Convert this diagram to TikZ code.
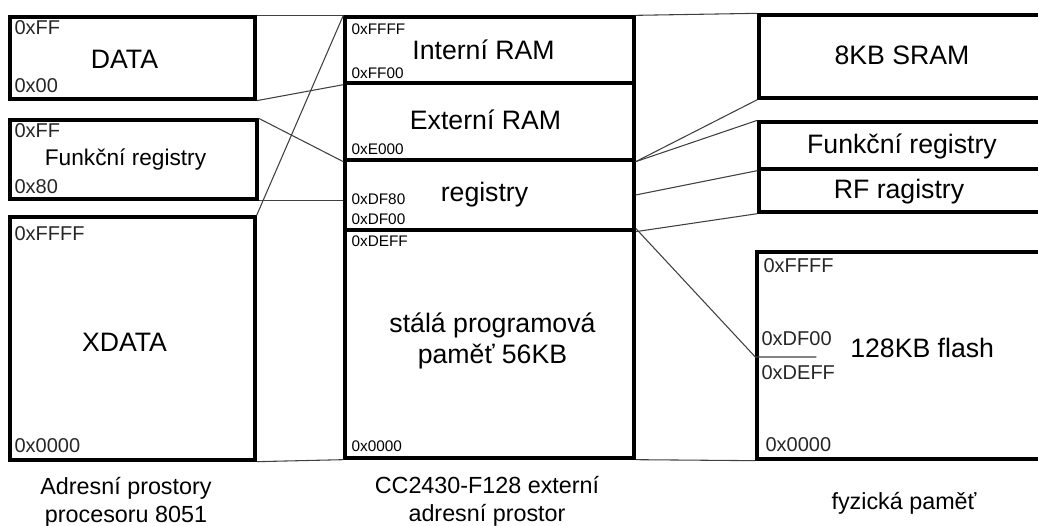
\documentclass[tikz,border=0pt]{standalone}
\usepackage{fontspec}
\setmainfont{Liberation Sans}
\usetikzlibrary{fit,calc}

\begin{document}
\begin{tikzpicture}[x=0.75pt,y=-0.75pt,
	blok/.style={draw,line width=2.5pt,inner sep=0pt},
	nazev/.style={inner sep=0pt,align=center,font=\fontsize{20}{23}\selectfont},
	spoj/.style={line width=0.8pt,black!75},
	adr/.style={inner sep=0pt,black!85,font=\fontsize{15}{18}\selectfont},
	madr/.style={inner sep=0pt,font=\fontsize{11.5}{13}\selectfont},
	popis/.style={inner sep=0pt,align=center,font=\fontsize{17.5}{21}\selectfont}]

\clip (0,0) rectangle (1038,525);

% PROCESOR 8051
\node[blok,fit={(10,17)(255,99)}] (data) {};
\node[nazev] (data-t) at ($(data.center)+(-8,1)$) {DATA};
\node[adr,anchor=north west] (data-h) at ($(data.north west)+(6,5)$) {0xFF};
\node[adr,anchor=south west] (data-l) at ($(data.south west)+(6,-8)$) {0x00};

\node[blok,fit={(10,120)(257,199)}] (sfr) {};
\node[nazev,font=\fontsize{17}{20}\selectfont] (sfr-t) at ($(sfr.center)+(-8,0)$) {Funkční registry};
\node[adr,anchor=north west] (sfr-h) at ($(sfr.north west)+(6,5)$) {0xFF};
\node[adr,anchor=south west] (sfr-l) at ($(sfr.south west)+(6,-7)$) {0x80};

\node[blok,fit={(10,217)(255,460)}] (xdata) {};
\node[nazev] (xdata-t) at ($(xdata.center)+(-8,4)$) {XDATA};
\node[adr,anchor=north west] (xdata-h) at ($(xdata.north west)+(6,11)$) {0xFFFF};
\node[adr,anchor=south west] (xdata-l) at ($(xdata.south west)+(6,-9)$) {0x0000};

\node[popis] (cap1) at (126,502) {Adresní prostory\\procesoru 8051};

% CC2430 ADRESNI PROSTOR
\node[blok,fit={(345,17)(634,83)}] (iram) {};
\node[nazev] (iram-t) at ($(iram.center)+(-6,0)$) {Interní RAM};
\node[madr,anchor=north west] (iram-h) at ($(iram.north west)+(8,8)$) {0xFFFF};
\node[madr,anchor=south west] (iram-l) at ($(iram.south west)+(8,-6)$) {0xFF00};

\node[blok,fit={(345,83)(634,160)}] (eram) {};
\node[nazev] (eram-t) at ($(eram.center)+(-4,-2)$) {Externí RAM};
\node[madr,anchor=south west] (eram-l) at ($(eram.south west)+(8,-7)$) {0xE000};

\node[blok,fit={(345,160)(634,230)}] (reg) {};
\node[nazev] (reg-t) at ($(reg.center)+(-5,0)$) {registry};
\node[madr,anchor=south west] (reg-m) at ($(reg.south west)+(8,-27)$) {0xDF80};
\node[madr,anchor=south west] (reg-l) at ($(reg.south west)+(8,-7)$) {0xDF00};

\node[blok,fit={(345,230)(634,458)}] (prog) {};
\node[nazev,font=\fontsize{20}{23.5}\selectfont] (prog-t) at ($(prog.center)+(3,-3)$) {stálá programová\\paměť 56KB};
\node[madr,anchor=north west] (prog-h) at ($(prog.north west)+(8,7)$) {0xDEFF};
\node[madr,anchor=south west] (prog-l) at ($(prog.south west)+(8,-8)$) {0x0000};

\node[popis] (cap2) at (487,501) {CC2430-F128 externí\\adresní prostor};

% FYZICKA PAMET
\node[blok,fit={(759,15)(1045,98)}] (sram) {};
\node[nazev] (sram-t) at ($(sram.center)+(0,-1)$) {8KB SRAM};
\node[blok,fit={(759,122)(1045,169)}] (rsfr) {};
\node[nazev] (rsfr-t) at ($(rsfr.center)+(0,1)$) {Funkční registry};
\node[blok,fit={(759,169)(1045,212)}] (rf) {};
\node[nazev] (rf-t) at ($(rf.center)+(-3,1)$) {RF ragistry};

\node[blok,fit={(757,252)(1045,459)}] (flash) {};
\node[adr,anchor=north west] (flash-h) at ($(flash.north west)+(8,8)$) {0xFFFF};
\node[adr,anchor=base west] (flash-m) at ($(flash.north west)+(6,95)$) {0xDF00};
\node[adr,anchor=north west] (flash-d) at ($(flash.north west)+(6,115)$) {0xDEFF};
\node[adr,anchor=south west] (flash-l) at ($(flash.south west)+(10,-9)$) {0x0000};
\node[nazev,anchor=base west] (flash-t) at (850,357) {128KB flash};
\coordinate (fl) at (flash.west |- 0,357);
\coordinate (flk) at ($(fl)+(61,0)$);

\node[popis] (cap3) at (904,503) {fyzická paměť};

% SPOJE VLEVO
\draw[spoj] (data.north east) -- (iram.north west);
\draw[spoj] (data.south east) -- (iram.south west);
\draw[spoj] (sfr.north east) -- (eram.south west);
\draw[spoj] (sfr.south east) -- (sfr.south east -| reg.west);
\draw[spoj] (xdata.north east) -- (iram.north west);
\draw[spoj] (xdata.south east) -- (prog.south west);

% SPOJE VPRAVO
\draw[spoj] (iram.north east) -- (sram.north west);
\draw[spoj] (eram.south east) -- (sram.south west);
\draw[spoj] (eram.south east) -- (rsfr.north west);
\draw[spoj] (reg.east) -- (rsfr.south west);
\draw[spoj] (reg.south east) -- (rf.south west);
\draw[spoj] (prog.north east) -- (fl) -- (flk);
\draw[spoj] (prog.south east) -- (flash.south west);

\end{tikzpicture}
\end{document}
